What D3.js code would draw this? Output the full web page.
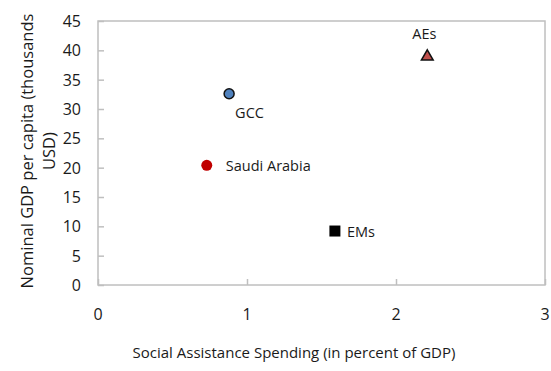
<!DOCTYPE html>
<html>
<head>
<meta charset="utf-8">
<script src="https://cdn.jsdelivr.net/npm/d3@7"></script>
<style>
  body { margin: 0; background: #fff; }
  svg text { font-family: "Open Sans", "Noto Sans", sans-serif; fill: #1a1a1a; }
</style>
</head>
<body>
<svg id="chart" width="551" height="371"></svg>
<script>
// Social assistance spending vs. GDP per capita
const groups = ["GCC", "Saudi Arabia", "AEs", "EMs"];
const spending = [0.88, 0.73, 2.21, 1.59];      // percent of GDP
const gdpPerCapita = [32.6, 20.4, 39.1, 9.2];   // thousands USD
const xTicks = [0, 1, 2, 3];
const yTicks = [0, 5, 10, 15, 20, 25, 30, 35, 40, 45];

const svg = d3.select("#chart");
const m = { left: 98, right: 545, top: 21, bottom: 285 };

const x = d3.scaleLinear().domain([0, 3]).range([m.left, m.right]);
const y = d3.scaleLinear().domain([0, 45]).range([m.bottom, m.top]);

const axisColor = "#bfbfbf";

// plot frame
svg.append("rect")
  .attr("x", m.left).attr("y", m.top)
  .attr("width", m.right - m.left).attr("height", m.bottom - m.top)
  .attr("fill", "none").attr("stroke", axisColor).attr("stroke-width", 1.5);

// y axis: inward ticks, labels on the left
const yAxis = svg.append("g")
  .attr("transform", `translate(${m.left},0)`)
  .call(d3.axisRight(y).tickValues(yTicks).tickSize(6).tickFormat(""));
yAxis.select(".domain").remove();
yAxis.selectAll("line").attr("stroke", axisColor).attr("stroke-width", 1.5);
svg.append("g").selectAll("text").data(yTicks).join("text")
  .attr("x", 81).attr("y", d => y(d) + 6)
  .attr("text-anchor", "end").attr("font-size", 16)
  .text(d => d);

// x axis: inward ticks, labels below
const xAxis = svg.append("g")
  .attr("transform", `translate(0,${m.bottom})`)
  .call(d3.axisTop(x).tickValues(xTicks).tickSize(6).tickFormat(""));
xAxis.select(".domain").remove();
xAxis.selectAll("line").attr("stroke", axisColor).attr("stroke-width", 1.5);
svg.append("g").selectAll("text").data(xTicks).join("text")
  .attr("x", d => x(d)).attr("y", 320)
  .attr("text-anchor", "middle").attr("font-size", 16)
  .text(d => d);

// axis titles
svg.append("text")
  .attr("x", 294).attr("y", 358)
  .attr("text-anchor", "middle").attr("font-size", 15)
  .text("Social Assistance Spending (in percent of GDP)");

const yTitle = svg.append("text")
  .attr("transform", "translate(33,151) rotate(-90)")
  .attr("text-anchor", "middle").attr("font-size", 16.5);
yTitle.append("tspan").attr("x", 0).attr("dy", 0).text("Nominal GDP per capita (thousands");
yTitle.append("tspan").attr("x", 0).attr("dy", 22).text("USD)");

// markers
const pts = groups.map((g, i) => ({ g, sx: x(spending[i]), sy: y(gdpPerCapita[i]) }));
const P = Object.fromEntries(pts.map(p => [p.g, p]));

svg.append("circle")
  .attr("cx", P["GCC"].sx).attr("cy", P["GCC"].sy).attr("r", 5)
  .attr("fill", "#4f81bd").attr("stroke", "#111").attr("stroke-width", 1.5);

svg.append("circle")
  .attr("cx", P["Saudi Arabia"].sx).attr("cy", P["Saudi Arabia"].sy).attr("r", 5.5)
  .attr("fill", "#c00000");

svg.append("path")
  .attr("d", d3.symbol().type(d3.symbolTriangle).size(60))
  .attr("transform", `translate(${P["AEs"].sx},${P["AEs"].sy + 1})`)
  .attr("fill", "#c0504d").attr("stroke", "#111").attr("stroke-width", 1.5);

svg.append("rect")
  .attr("x", P["EMs"].sx - 5.5).attr("y", P["EMs"].sy - 5.5)
  .attr("width", 11).attr("height", 11)
  .attr("fill", "#000");

// point labels
const lab = (txt, px, py, anchor) => svg.append("text")
  .attr("x", px).attr("y", py).attr("text-anchor", anchor)
  .attr("font-size", 14.5).text(txt);
lab("GCC", P["GCC"].sx + 6, P["GCC"].sy + 24, "start");
lab("Saudi Arabia", P["Saudi Arabia"].sx + 19, P["Saudi Arabia"].sy + 6, "start");
lab("AEs", P["AEs"].sx - 3, P["AEs"].sy - 17, "middle");
lab("EMs", P["EMs"].sx + 12, P["EMs"].sy + 6, "start");
</script>
</body>
</html>
